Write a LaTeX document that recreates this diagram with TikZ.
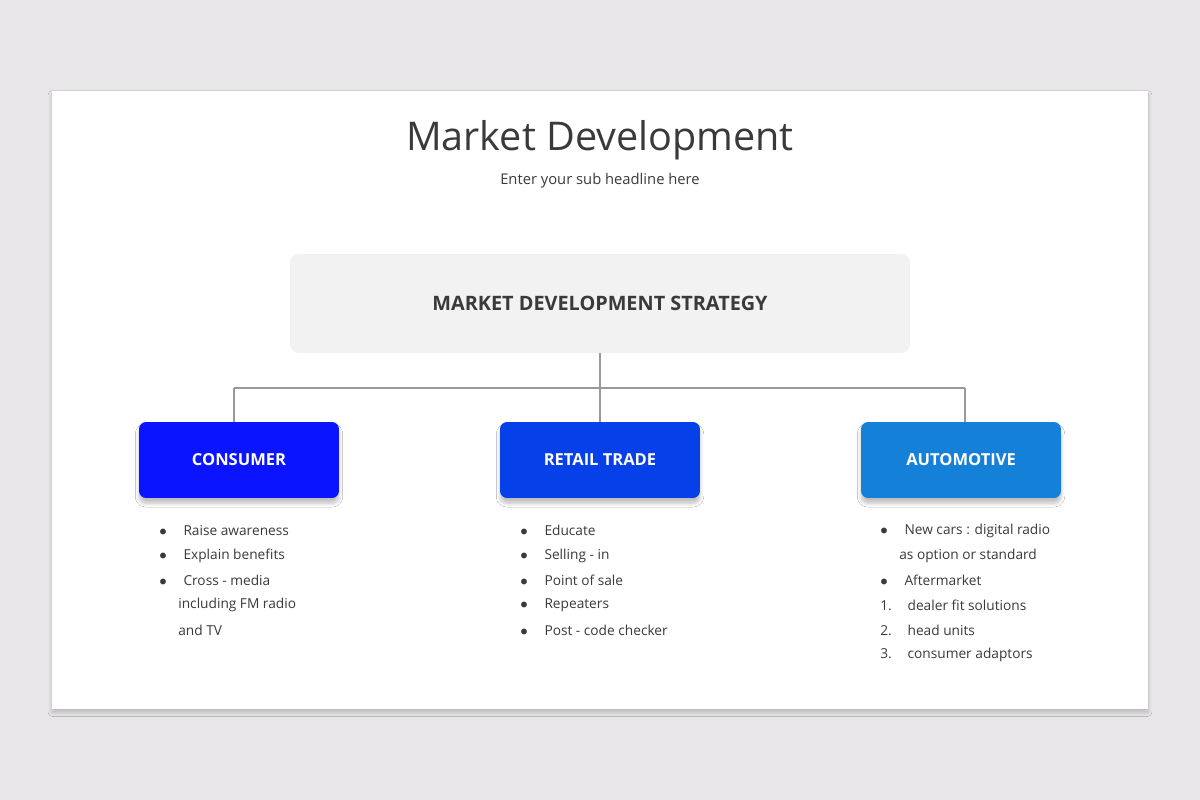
\documentclass[tikz,border=0pt]{standalone}
\usepackage{fontspec}
\setmainfont{Open Sans}
\usetikzlibrary{positioning,shadows.blur}
\definecolor{bgc}{HTML}{E8E6E8}
\definecolor{txt}{HTML}{3A3A3A}
\definecolor{boxgray}{HTML}{F2F2F2}
\definecolor{cblue}{HTML}{0A14FF}
\definecolor{rblue}{HTML}{0540E8}
\definecolor{ablue}{HTML}{1580D8}
\begin{document}
\begin{tikzpicture}[x=0.02cm,y=-0.02cm,
  headbox/.style={rectangle,rounded corners=4pt,minimum width=4cm,minimum height=1.52cm,text=white,font=\fontsize{9.4}{11}\selectfont\bfseries,blur shadow={shadow blur steps=8,shadow xshift=0pt,shadow yshift=-3pt,shadow opacity=25}},
  item/.style={anchor=west,inner sep=0pt,text=txt,font=\fontsize{7.8}{9}\selectfont},
  link/.style={draw=gray!80,line width=0.6pt}]
  % background and card
  \fill[bgc] (0,0) rectangle (1200,800);
  \fill[white,blur shadow={shadow blur steps=10,shadow xshift=0pt,shadow yshift=-2pt,shadow opacity=20}] (52,91) rectangle (1148,709);
  % headline
  \node[text=txt,font=\fontsize{22.5}{26}\selectfont] (title) at (600,140) {Market Development};
  \node[text=txt,font=\fontsize{8.4}{10}\selectfont] (sub) at (600,181) {Enter your sub headline here};
  % strategy box
  \node[fill=boxgray,rounded corners=5pt,minimum width=12.4cm,minimum height=1.98cm,text=txt,font=\fontsize{11.3}{13}\selectfont\bfseries] (strat) at (600,303.5) {MARKET DEVELOPMENT STRATEGY};
  % branches
  \node[headbox,fill=cblue] (cons) at (239,460) {CONSUMER};
  \node[headbox,fill=rblue] (retail) at (600,460) {RETAIL TRADE};
  \node[headbox,fill=ablue] (auto) at (961,460) {AUTOMOTIVE};
  \coordinate (hub) at (600,388);
  \coordinate (lft) at (234,388);
  \coordinate (rgt) at (965,388);
  \draw[link] (strat.south) -- (hub);
  \draw[link] (lft) -- (rgt);
  \draw[link] (lft) -- (lft |- cons.north);
  \draw[link] (hub) -- (retail.north);
  \draw[link] (rgt) -- (rgt |- auto.north);
  % bullet lists
  \foreach \t [count=\i] in {Raise awareness,Explain benefits,Cross - media}
    \node[item] (c\i) at (159,506+24.8*\i) {$\bullet$\hspace{9.5pt}\t};
  \node[item] (c4) at (178,605.2) {including FM radio};
  \node[item] (c5) at (178,630) {and TV};
  \foreach \t [count=\i] in {Educate,Selling - in,Point of sale,Repeaters,Post - code checker}
    \node[item] (r\i) at (520,506+24.8*\i) {$\bullet$\hspace{9.5pt}\t};
  \node[item] (a1) at (880,530.8) {$\bullet$\hspace{9.5pt}New cars : digital radio};
  \node[item] (a2) at (899,555.6) {as option or standard};
  \node[item] (a3) at (880,580.4) {$\bullet$\hspace{9.5pt}Aftermarket};
  \foreach \t [count=\i] in {dealer fit solutions,head units,consumer adaptors}
    \node[item] (n\i) at (880,580.4+24.8*\i) {\i.\hspace{9pt}\t};
\end{tikzpicture}
\end{document}
